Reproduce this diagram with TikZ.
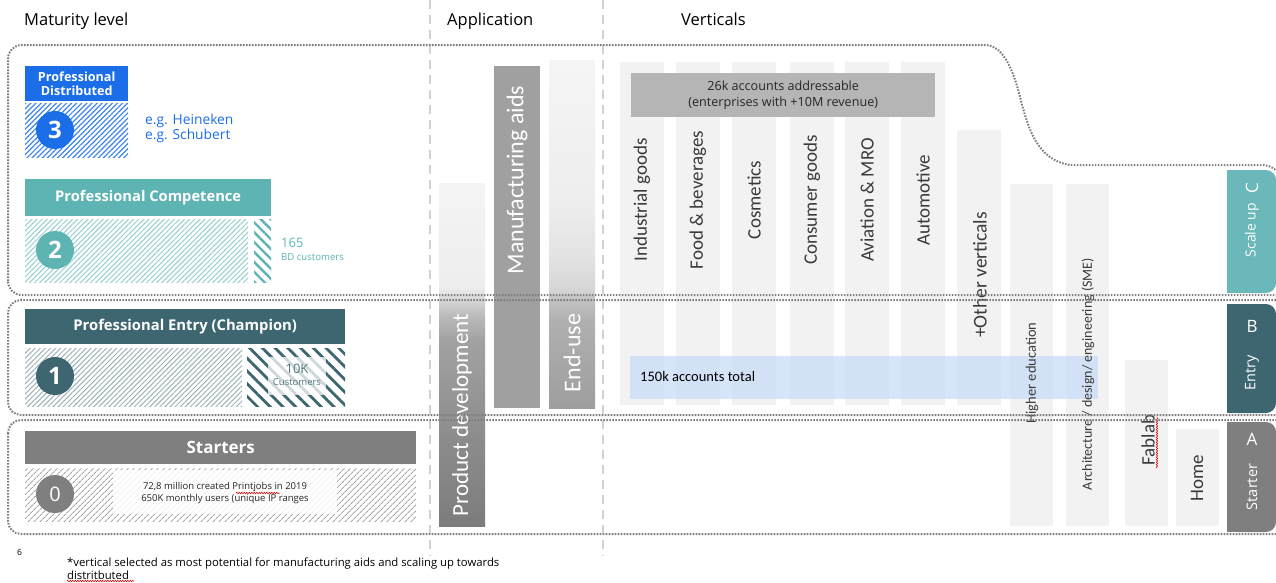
\documentclass[tikz,border=0pt]{standalone}
\usepackage{fontspec}
\setmainfont{Open Sans}
\newfontfamily\calfont{Carlito}
\usetikzlibrary{patterns.meta,decorations.pathmorphing}

\newcommand{\fsz}[2]{\fontsize{#1}{#2}\selectfont}

\definecolor{blueL}{HTML}{1C6EE8}
\definecolor{tealL}{HTML}{5EB3B3}
\definecolor{dtealL}{HTML}{3D6670}
\definecolor{grayL}{HTML}{7F7F7F}
\definecolor{tagC}{HTML}{6AB8B9}
\definecolor{colfill}{HTML}{F2F2F2}
\definecolor{barmid}{HTML}{A0A0A0}
\definecolor{txtdark}{HTML}{3A3A3A}
\definecolor{regline}{HTML}{7E7E7E}
\definecolor{guide}{HTML}{D2D2D2}
\definecolor{accblue}{HTML}{C9DCFA}
\definecolor{acctop}{HTML}{B5B5B5}
% product development bar
\definecolor{pdA}{HTML}{7C7C7C}
\definecolor{pdB}{HTML}{8C8C8C}
\definecolor{pdC}{HTML}{A2A2A2}
\definecolor{pdD}{HTML}{BABABA}
\definecolor{pdE}{HTML}{DCDCDC}
\definecolor{pdF}{HTML}{EEEEEE}
\definecolor{pdG}{HTML}{F4F4F4}
% end-use bar
\definecolor{euA}{HTML}{9E9E9E}
\definecolor{euB}{HTML}{B0B0B0}
\definecolor{euC}{HTML}{C2C2C2}
\definecolor{euD}{HTML}{D5D5D5}
\definecolor{euE}{HTML}{E2E2E2}
\definecolor{euF}{HTML}{EEEEEE}
\definecolor{euG}{HTML}{F5F5F5}

\pgfdeclareverticalshading{pdshade}{100bp}{color(0bp)=(pdA); color(25bp)=(pdA);
  color(37.6bp)=(pdB); color(52.2bp)=(pdC); color(55.6bp)=(pdD); color(58.4bp)=(pdE);
  color(59.9bp)=(pdF); color(75bp)=(pdG); color(100bp)=(pdG)}
\pgfdeclareverticalshading{eushade}{100bp}{color(0bp)=(euA); color(25bp)=(euA);
  color(37.6bp)=(euB); color(40.5bp)=(euC); color(42bp)=(euD); color(46.3bp)=(euE);
  color(54.9bp)=(euF); color(75bp)=(euG); color(100bp)=(euG)}

\tikzset{
  region/.style={draw=regline, line width=2pt, dash pattern=on 1.6pt off 1.4pt},
  guideline/.style={draw=guide, line width=1.4pt, dash pattern=on 9pt off 6pt},
  hdrbox/.style={anchor=north west, inner sep=0pt, text=white, align=center},
  lvlcirc/.style={circle, minimum size=38pt, inner sep=0pt, text=white, font=\fsz{24}{24}\bfseries},
  vlabel/.style={rotate=90, text=txtdark, font=\calfont\fsz{19}{20}, inner sep=0pt},
  barlabel/.style={rotate=90, text=white, font=\calfont\fsz{24}{25}, inner sep=0pt},
  taglabel/.style={text=white, inner sep=0pt},
  heading/.style={anchor=base west, inner sep=0pt, font=\fsz{16.5}{17}},
  squiggle/.style={draw=red!85!black, line width=0.5pt, decorate,
    decoration={snake, amplitude=0.8pt, segment length=2.5pt}}
}

\begin{document}
\begin{tikzpicture}[x=1pt,y=-1pt]
  \useasboundingbox (0,0) rectangle (1276,582);
  \clip (0,0) rectangle (1276,582);

  % headings and guides
  \node[heading] (hmat) at (24,25) {Maturity level};
  \node[heading] (happ) at (447,25) {Application};
  \node[heading] (hver) at (681,25) {Verticals};
  \draw[guideline] (430,0) -- (430,556);
  \draw[guideline] (603,0) -- (603,556);

  % level 3
  \node[hdrbox, fill=blueL, minimum width=103, minimum height=35, font=\fsz{12.6}{14.5}\bfseries] (dist) at (25,66) {Professional\\Distributed};
  \fill[pattern={Lines[angle=45,distance=3.6pt,line width=1.2pt]}, pattern color=blueL!85] (25,103) rectangle (128,157);
  \node[lvlcirc, fill=blueL] (c3) at (55,130) {3};
  \node[anchor=west, align=left, text=blueL, font=\fsz{13.8}{15}, inner sep=0] (ex3) at (145,128) {e.g. Heineken\\e.g. Schubert};

  % level 2
  \node[hdrbox, fill=tealL, minimum width=246, minimum height=37, font=\fsz{14.7}{16}\bfseries] (comp) at (25,179) {Professional Competence};
  \fill[pattern={Lines[angle=45,distance=3.6pt,line width=1pt]}, pattern color=tealL!65] (25,219) rectangle (248,282);
  \fill[pattern={Lines[angle=-45,distance=7pt,line width=2.4pt]}, pattern color=tealL] (254,219) rectangle (271,282);
  \node[lvlcirc, fill=tealL] (c2) at (55,250) {2};
  \node[anchor=west, text=tealL, font=\fsz{13}{14}, inner sep=0] (n165) at (281,243) {165};
  \node[anchor=west, text=tealL, font=\fsz{9.6}{10}, inner sep=0] (bdc) at (281,257) {BD customers};

  % level 1
  \node[hdrbox, fill=dtealL, minimum width=320, minimum height=35, font=\fsz{14.8}{16}\bfseries] (entry) at (25,309) {Professional Entry (Champion)};
  \fill[pattern={Lines[angle=45,distance=3.6pt,line width=1pt]}, pattern color=dtealL!50] (25,348) rectangle (242,406);
  \fill[pattern={Lines[angle=-45,distance=9pt,line width=2.8pt]}, pattern color=dtealL] (247,348) rectangle (345,406);
  \fill[white, opacity=0.75] (268,357) rectangle (326,395);
  \node[lvlcirc, fill=dtealL] (c1) at (55,376) {1};
  \node[text=dtealL!90, font=\fsz{13}{13}, inner sep=0] (n10k) at (297,369) {10K};
  \node[text=dtealL!90, font=\fsz{9.5}{10}, inner sep=0] (cust) at (297,382) {Customers};

  % level 0
  \node[hdrbox, fill=grayL, minimum width=391, minimum height=33, font=\fsz{17}{18}\bfseries] (start) at (25,431) {Starters};
  \fill[pattern={Lines[angle=45,distance=4pt,line width=1pt]}, pattern color=grayL!70] (25,468) rectangle (416,521);
  \fill[white, opacity=0.85] (113,470) rectangle (337,514);
  \node[lvlcirc, fill=grayL, font=\fsz{20}{20}] (c0) at (55,494) {0};
  \node[align=center, text=black!85, font=\fsz{9.5}{12.5}, inner sep=0] (jobs) at (225,493) {72,8 million created Printjobs in 2019\\650K monthly users (unique IP ranges};
  \draw[squiggle] (236,493) -- (280,493);

  % application bars
  \shade[shading=pdshade] (439,183) rectangle (485,526);
  \fill[barmid] (494,66) rectangle (540,408);
  \shade[shading=eushade] (549,60) rectangle (595,408);
  \node[barlabel, font=\calfont\fsz{23}{24}] (prod) at (462,415) {Product development};
  \node[barlabel] (manu) at (517,180) {Manufacturing aids};
  \node[barlabel] (enduse) at (572,353) {End-use};

  % verticals
  \foreach \cx/\lab in {620/Industrial goods, 676/Food \& beverages, 732/Cosmetics,
      790/Consumer goods, 845/Aviation \& MRO, 901/Automotive}{
    \fill[colfill] (\cx,62) rectangle ++(44,343);
    \node[vlabel] (v\cx) at (\cx+22,200) {\lab};
  }
  \fill[colfill] (957,130) rectangle (1001,405);
  \fill[colfill] (1010,184) rectangle (1053,526);
  \fill[colfill] (1066,184) rectangle (1109,526);
  \fill[colfill] (1125,360) rectangle (1168,526);
  \fill[colfill] (1176,429) rectangle (1219,526);

  \node[fill=acctop, minimum width=304, minimum height=44, anchor=north west, align=center,
    text=black!85, font=\fsz{12.6}{16}, inner sep=0] (acc26) at (631,73) {26k accounts addressable\\(enterprises with +10M revenue)};
  \fill[accblue, opacity=0.75] (630,356) rectangle (1098,399);
  \node[anchor=west, font=\calfont\fsz{14.5}{15}, inner sep=0] (acc150) at (640,377) {150k accounts total};

  \node[vlabel, font=\calfont\fsz{19.5}{20}] (vother) at (980,275) {+Other verticals};
  \node[vlabel, font=\calfont\fsz{14.5}{15}] (vhigh) at (1032,373) {Higher education};
  \node[vlabel, font=\calfont\fsz{14}{15}] (varch) at (1088,374) {Architecture / design/ engineering (SME)};
  \node[vlabel] (vfab) at (1148,440) {Fablab};
  \node[vlabel] (vhome) at (1197,478) {Home};
  \draw[squiggle] (1157,468) -- (1157,417);

  % stage tags
  \fill[tagC, rounded corners=10] (1227,170) rectangle (1276,293);
  \fill[tagC] (1227,170) rectangle (1240,293);
  \fill[dtealL, rounded corners=10] (1227,304) rectangle (1276,413);
  \fill[dtealL] (1227,304) rectangle (1240,413);
  \fill[grayL, rounded corners=10] (1227,422) rectangle (1276,532);
  \fill[grayL] (1227,422) rectangle (1240,532);
  \node[taglabel, rotate=90, font=\fsz{17}{17}] (tc) at (1252,188) {C};
  \node[taglabel, rotate=90, font=\fsz{14}{15}] (tscale) at (1252,230) {Scale up};
  \node[taglabel, font=\fsz{17}{17}] (tb) at (1252,326) {B};
  \node[taglabel, rotate=90, font=\fsz{14.5}{15}] (tentry) at (1252,373) {Entry};
  \node[taglabel, font=\fsz{17}{17}] (ta) at (1252,439) {A};
  \node[taglabel, rotate=90, font=\fsz{14.5}{15}] (tstart) at (1252,487) {Starter};

  % dotted stage regions
  \draw[region] (8,281) -- (8,59) .. controls (8,51) and (14,45) .. (22,45) -- (985,45)
    .. controls (1005,45) and (1015,75) .. (1022,105)
    .. controls (1028,125) and (1036,160) .. (1070,165) -- (1262,165)
    .. controls (1272,165) and (1281,172) .. (1281,182) -- (1281,295) -- (22,295)
    .. controls (14,295) and (8,289) .. (8,281) -- cycle;
  \draw[region, rounded corners=13] (8,300) rectangle (1295,415);
  \draw[region, rounded corners=13] (8,420) rectangle (1295,534);

  % footer
  \node[anchor=base west, font=\fsz{8.5}{9}, inner sep=0] (pnum) at (17,555) {6};
  \node[anchor=north west, align=left, font=\fsz{11.3}{12.5}, inner sep=0] (fnote) at (67,558) {*vertical selected as most potential for manufacturing aids and scaling up towards\\distritbuted};
  \draw[squiggle] (67,581) -- (134,581);
\end{tikzpicture}
\end{document}
